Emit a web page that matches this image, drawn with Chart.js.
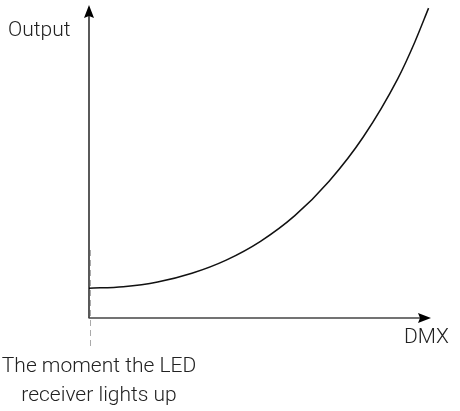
<!DOCTYPE html>
<html>
<head>
<meta charset="utf-8">
<script src="https://cdn.jsdelivr.net/npm/chart.js@4.4.0/dist/chart.umd.min.js"></script>
<style>
  html, body { margin: 0; padding: 0; background: #fff; }
  #wrap { width: 460px; height: 411px; position: relative; }
</style>
</head>
<body>
<div id="wrap"><canvas id="myChart"></canvas></div>
<script>
// DMX level (0-100) and output (0-100)
var dmxValues = [0, 10, 20, 30, 40, 50, 60, 70, 80, 90, 95, 99];
var outputValues = [9.5, 10.0, 11.5, 14.3, 18.5, 24.5, 32.7, 43.7, 57.9, 76.4, 88.2, 99.0];

var yAxisLabel = 'Output';
var xAxisLabel = 'DMX';
var noteLines = ['The moment the LED', 'receiver lights up'];

var points = dmxValues.map(function(x, i) {
    return { x: x, y: outputValues[i] };
});

// draws the arrow axes, dashed marker and texts
var axesPlugin = {
    id: 'axesPlugin',
    afterDraw: function(chart) {
        var ctx = chart.ctx;
        var xs = chart.scales.x;
        var ys = chart.scales.y;
        var x0 = xs.getPixelForValue(0);
        var y0 = ys.getPixelForValue(0);
        ctx.save();

        // dashed marker where the LED lights up
        ctx.strokeStyle = '#aaaaaa';
        ctx.lineWidth = 1;
        ctx.setLineDash([6, 4]);
        ctx.beginPath();
        ctx.moveTo(x0 + 1.5, 250);
        ctx.lineTo(x0 + 1.5, 350);
        ctx.stroke();
        ctx.setLineDash([]);

        // y axis
        ctx.strokeStyle = '#000';
        ctx.fillStyle = '#000';
        ctx.lineWidth = 1.3;
        ctx.beginPath();
        ctx.moveTo(x0, y0);
        ctx.lineTo(x0, 14);
        ctx.stroke();
        ctx.beginPath();
        ctx.moveTo(x0, 5);
        ctx.lineTo(x0 - 5, 18);
        ctx.lineTo(x0, 16);
        ctx.lineTo(x0 + 5, 18);
        ctx.closePath();
        ctx.fill();

        // x axis
        ctx.strokeStyle = '#444';
        ctx.lineWidth = 1.5;
        ctx.beginPath();
        ctx.moveTo(x0 - 0.5, y0);
        ctx.lineTo(420, y0);
        ctx.stroke();
        ctx.fillStyle = '#000';
        ctx.beginPath();
        ctx.moveTo(431, y0);
        ctx.lineTo(418, y0 - 5);
        ctx.lineTo(420, y0);
        ctx.lineTo(418, y0 + 5);
        ctx.closePath();
        ctx.fill();

        // texts
        ctx.fillStyle = '#222';
        ctx.font = '300 21px Roboto';
        ctx.textAlign = 'left';
        ctx.textBaseline = 'alphabetic';
        ctx.fillText(yAxisLabel, 8, 36);
        ctx.fillText(xAxisLabel, 404, 343);
        ctx.textAlign = 'center';
        ctx.fillText(noteLines[0], 99, 372);
        ctx.fillText(noteLines[1], 99, 401);
        ctx.restore();
    }
};

var ctx = document.getElementById('myChart').getContext('2d');
var chart = new Chart(ctx, {
    type: 'line',
    data: {
        datasets: [{
            data: points,
            borderColor: '#111',
            borderWidth: 1.5,
            pointRadius: 0,
            cubicInterpolationMode: 'monotone',
            fill: false
        }]
    },
    options: {
        responsive: true,
        maintainAspectRatio: false,
        animation: false,
        layout: {
            padding: { left: 89, right: 28, top: 5, bottom: 93 }
        },
        scales: {
            x: { type: 'linear', min: 0, max: 100, display: false },
            y: { min: 0, max: 100, display: false }
        },
        plugins: {
            legend: { display: false },
            tooltip: { enabled: false }
        }
    },
    plugins: [axesPlugin]
});
</script>
</body>
</html>
